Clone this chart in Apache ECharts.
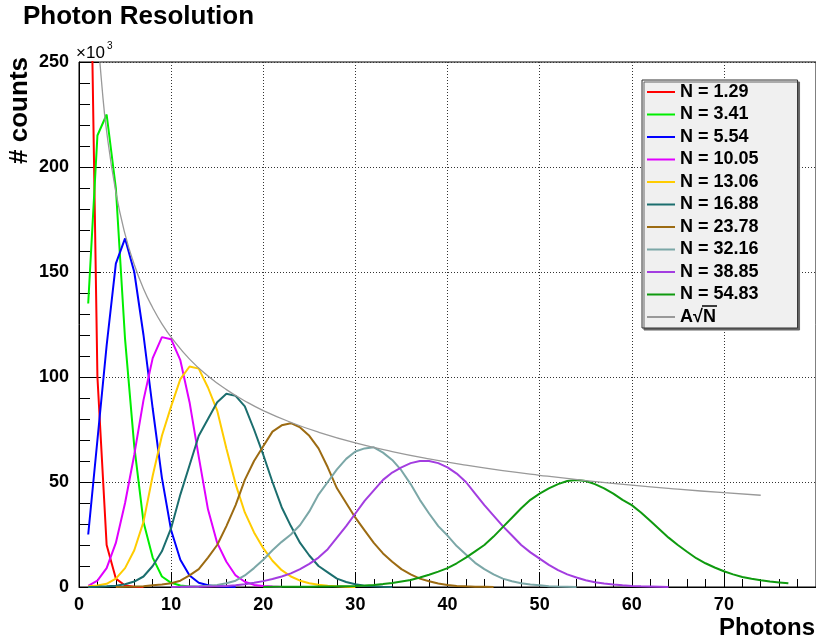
<!DOCTYPE html>
<html>
<head>
<meta charset="utf-8">
<title>Photon Resolution</title>
<script src="https://cdn.jsdelivr.net/npm/echarts@6.0.0/dist/echarts.min.js"></script>
<style>
  html, body { margin: 0; padding: 0; background: #ffffff; }
  #chart { width: 816px; height: 641px; }
</style>
</head>
<body>
<div id="chart"></div>
<script>
// photon count spectra, values in units of 10^3 counts, one point per integer bin
var legendNames = ["N = 1.29", "N = 3.41", "N = 5.54", "N = 10.05", "N = 13.06",
  "N = 16.88", "N = 23.78", "N = 32.16", "N = 38.85", "N = 54.83"];
var firstBin = [1, 1, 1, 1, 1, 1, 4, 11, 10, 20];

var countsN129 = [377, 100, 20, 4, 0.7, 0.1, 0];
var countsN341 = [135, 215, 225, 190, 118, 67, 31, 14, 5, 2, 0.7, 0.2, 0];
var countsN554 = [25, 70, 115, 154, 166, 150, 120, 85, 52, 27, 13, 5.5, 2, 0.8, 0.3, 0.1, 0];
var countsN1005 = [0.5, 3, 9, 21, 40, 63, 89, 109, 119, 118, 108, 88, 62, 37, 21, 12, 5.5, 2.5,
  1, 0.5, 0.2, 0];
var countsN1306 = [0.3, 0.7, 1.5, 4, 9, 17.5, 31, 53, 72, 86, 99, 105, 104, 95, 84, 66, 49, 35.5,
  26, 18.5, 12.5, 8, 5, 3, 1.8, 1.1, 0.6, 0.3, 0.15, 0];
var countsN1688 = [0, 0.1, 0.3, 0.6, 1.3, 2.6, 5, 10, 17, 28, 44, 58, 72, 80, 88, 92, 91, 86, 75,
  63, 50, 38, 29, 21, 15, 10, 7, 4, 2.4, 1.3, 0.6, 0.3, 0.1, 0];
var countsN2378 = [0.05, 0.1, 0.2, 0.4, 0.8, 1.2, 1.8, 3, 5.5, 8.5, 14, 20, 29, 39, 51, 60, 67, 74,
  77, 78, 76, 72, 66, 57, 47, 40, 33, 27, 21, 16, 12, 8.5, 6, 4, 2.7, 1.7, 1, 0.5, 0.3, 0.15, 0.1, 0];
var countsN3216 = [0.1, 0.2, 0.3, 0.6, 1, 1.8, 3, 5.5, 9, 13, 17.5, 21.5, 25, 29.5, 36, 44, 50, 56,
  61, 64.5, 66, 66.5, 64, 60.5, 55.5, 49, 41.5, 35, 29, 24.5, 19.5, 15.5, 11.5, 8.5, 6, 4, 2.7,
  1.8, 1.2, 0.8, 0.4, 0.2, 0.1, 0];
var countsN3885 = [0.05, 0.07, 0.1, 0.15, 0.2, 0.3, 0.5, 0.8, 1.3, 2, 2.8, 3.8, 5, 6.5, 8.5, 11, 14,
  18, 23.5, 29, 35, 41, 46, 51, 54.5, 57, 59, 60, 60, 59, 57, 54, 50, 44.5, 39, 34, 29, 24.5, 20,
  16.5, 13.5, 10.5, 8, 6, 4.5, 3.2, 2.3, 1.7, 1.2, 0.8, 0.5, 0.3, 0.2, 0.1, 0];
var countsN5483 = [0.05, 0.07, 0.09, 0.11, 0.13, 0.15, 0.2, 0.25, 0.3, 0.4, 0.5, 0.7, 1, 1.4, 1.9,
  2.6, 3.3, 4.5, 5.8, 7.3, 9, 11.3, 14, 17, 20, 24, 28.5, 33, 37.5, 41.5, 44.5, 47, 49, 50.5, 51,
  50.5, 49, 47, 44.5, 41.5, 39, 35.5, 31.5, 27.5, 23.5, 20, 16.8, 13.7, 11.3, 9.3, 7.5, 6, 4.8,
  3.9, 3.2, 2.6, 2.2, 1.8];

// A/sqrt(N) envelope
var fitName = "A\u221AN";
var fitX = [1.3, 1.6, 2, 2.5, 3, 4, 5, 6, 7, 8, 9, 10, 12, 14, 16, 18, 20, 23, 26, 30, 34, 38, 42,
  46, 50, 55, 60, 65, 70, 74];
var fitY = [330, 297, 266, 238, 217, 188, 168, 153.5, 142, 133, 125.3, 119, 108.5, 100.5, 94, 88.6,
  84, 78.4, 73.7, 68.6, 64.5, 61, 58, 55.4, 53.2, 50.7, 48.5, 46.6, 44.9, 43.7];

var xTicks = [0, 10, 20, 30, 40, 50, 60, 70];
var yTicks = [0, 50, 100, 150, 200, 250];

var allCounts = [countsN129, countsN341, countsN554, countsN1005, countsN1306,
  countsN1688, countsN2378, countsN3216, countsN3885, countsN5483];
var lineColors = ["#ff0000", "#00ee00", "#0000ff", "#e000ff", "#ffcc00",
  "#1b6e6e", "#9c6b12", "#7ba7a7", "#a33de0", "#0f9a0f"];

var FONT = "'Liberation Sans', Arial, Helvetica, sans-serif";

var chart = echarts.init(document.getElementById("chart"), null, { renderer: "canvas" });

var series = allCounts.map(function (vals, k) {
  return {
    name: legendNames[k],
    type: "line",
    data: vals.map(function (v, i) { return [firstBin[k] + i, v]; }),
    showSymbol: false,
    symbol: "none",
    clip: true,
    lineStyle: { color: lineColors[k], width: 2 },
    itemStyle: { color: lineColors[k] },
    z: 3
  };
});

series.push({
  name: fitName,
  type: "line",
  smooth: true,
  data: fitX.map(function (x, i) { return [x, fitY[i]]; }),
  showSymbol: false,
  symbol: "none",
  clip: true,
  lineStyle: { color: "#999999", width: 1.3 },
  itemStyle: { color: "#999999" },
  z: 4
});

var axisText = { fontFamily: FONT, fontWeight: "bold", fontSize: 18, color: "#000" };
var dotted = { color: "#333", width: 1, type: [1, 2] };

chart.setOption({
  animation: false,
  backgroundColor: "#ffffff",
  title: {
    text: "Photon Resolution",
    left: 23,
    top: 4,
    padding: 0,
    textStyle: { fontFamily: FONT, fontWeight: "bold", fontSize: 26, color: "#000" }
  },
  grid: {
    left: 79,
    top: 62,
    width: 769,
    height: 525,
    show: true,
    borderColor: "#000",
    borderWidth: 1,
    backgroundColor: "transparent",
    containLabel: false
  },
  legend: {
    orient: "vertical",
    left: 642,
    top: 80,
    z: 20,
    icon: "rect",
    itemWidth: 28,
    itemHeight: 2,
    itemGap: 4.5,
    padding: [3, 39, 2, 5],
    backgroundColor: "#f0f0f0",
    borderColor: "#333",
    borderWidth: 1,
    shadowColor: "#666",
    shadowBlur: 0,
    shadowOffsetX: 2,
    shadowOffsetY: 2,
    selectedMode: false,
    textStyle: { fontFamily: FONT, fontWeight: "bold", fontSize: 18, lineHeight: 18, color: "#000" },
    data: legendNames.concat([fitName])
  },
  xAxis: {
    type: "value",
    min: 0,
    max: 80,
    interval: 10,
    axisLine: { show: true, onZero: false, lineStyle: { color: "#000", width: 1 } },
    axisTick: { show: true, inside: true, length: 15, lineStyle: { color: "#000", width: 1 } },
    minorTick: { show: true, splitNumber: 5, length: 8, lineStyle: { color: "#000", width: 1 } },
    splitLine: { show: true, lineStyle: dotted },
    axisLabel: Object.assign({ margin: 9, showMaxLabel: false,
      formatter: function (v) { return xTicks.indexOf(v) >= 0 ? String(v) : ""; } }, axisText)
  },
  yAxis: {
    type: "value",
    min: 0,
    max: 250,
    interval: 50,
    axisLine: { show: true, onZero: false, lineStyle: { color: "#000", width: 1 } },
    axisTick: { show: true, inside: true, length: 22, lineStyle: { color: "#000", width: 1 } },
    minorTick: { show: true, splitNumber: 5, length: 11, lineStyle: { color: "#000", width: 1 } },
    splitLine: { show: true, lineStyle: dotted },
    axisLabel: Object.assign({ margin: 10,
      formatter: function (v) { return yTicks.indexOf(v) >= 0 ? String(v) : ""; } }, axisText)
  },
  graphic: [
    { type: "text", x: 76, y: 45, style: { text: "\u00d710", fontFamily: FONT, fontSize: 17, fill: "#000" } },
    { type: "text", x: 107, y: 41, style: { text: "3", fontFamily: FONT, fontSize: 10, fill: "#000" } },
    { type: "text", x: 20, y: 57, rotation: Math.PI / 2,
      style: { text: "# counts", fontFamily: FONT, fontWeight: "bold", fontSize: 26, fill: "#000",
        align: "right", verticalAlign: "middle" } },
    { type: "text", x: 815, y: 628,
      style: { text: "Photons", fontFamily: FONT, fontWeight: "bold", fontSize: 24, fill: "#000",
        align: "right", verticalAlign: "middle" } },
    // overline of the square root in the last legend label
    { type: "line", z: 30, shape: { x1: 702, y1: 306, x2: 717, y2: 306 },
      style: { stroke: "#000", lineWidth: 1.5 } }
  ],
  series: series
});
</script>
</body>
</html>
